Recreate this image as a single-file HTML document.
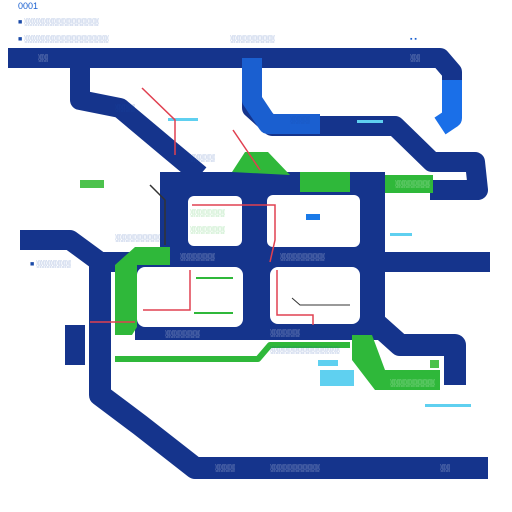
<!DOCTYPE html><html><head><style>body{margin:0;background:#fff}svg{display:block}</style></head><body>
<svg width="512" height="512" viewBox="0 0 512 512" xmlns="http://www.w3.org/2000/svg" font-family="Liberation Sans, sans-serif">
<rect width="512" height="512" fill="#fff"/>
<g fill="none" stroke-linejoin="round">
<!-- top bar -->
<path d="M8 58 H440 L452 72 V118" stroke="#15348c" stroke-width="20"/>
<path d="M452 80 V118 L440 126" stroke="#1a6fe8" stroke-width="20"/>
<!-- left branch from top -->
<path d="M80 58 V100 L120 108 L170 150 L200 175" stroke="#15348c" stroke-width="20"/>
<!-- middle top loop -->
<path d="M252 58 V108 L272 126 H395 L432 162 L475 162 L478 190 H430" stroke="#15348c" stroke-width="20"/>
<path d="M252 58 V100 L268 124 H320" stroke="#1a5fd0" stroke-width="20"/>
<!-- horizontal band -->
<path d="M20 240 H70 L100 262 H490" stroke="#15348c" stroke-width="20"/>
<path d="M380 262 L480 262" stroke="#15348c" stroke-width="20"/>
<!-- left outer loop -->
<path d="M100 262 V395 L140 425 L195 468 H488" stroke="#15348c" stroke-width="22"/>
<!-- right vertical -->
<path d="M372 175 V320 L400 345 H455 V385" stroke="#15348c" stroke-width="22"/>
<!-- green thin -->
<path d="M115 359 H258 L270 345 H350" stroke="#2fb83a" stroke-width="6"/>
</g>
<!-- central blue block -->
<path d="M160 172 H385 V340 H135 V265 H160 Z" fill="#15348c"/>
<rect x="188" y="196" width="54" height="50" rx="6" fill="#fff"/>
<rect x="267" y="195" width="93" height="52" rx="6" fill="#fff"/>
<rect x="137" y="267" width="106" height="60" rx="8" fill="#fff"/>
<rect x="270" y="267" width="90" height="57" rx="8" fill="#fff"/>
<!-- greens -->
<path d="M135 247 H170 V265 H137 V327 L132 335 H115 V265 Z" fill="#2fb83a"/>
<path d="M232 172 L245 152 H268 L290 175 Z" fill="#2fb83a"/>
<rect x="300" y="172" width="50" height="20" fill="#2fb83a"/>
<path d="M385 175 H433 V193 H385 Z" fill="#2fb83a"/>
<path d="M352 335 H372 L385 370 H440 V390 H375 L352 360 Z" fill="#2fb83a"/>
<rect x="80" y="180" width="24" height="8" fill="#4cc24c"/>
<rect x="430" y="360" width="9" height="8" fill="#4cc24c"/>
<!-- left small box -->
<rect x="65" y="325" width="20" height="40" fill="#15348c"/>
<!-- cyan -->
<rect x="320" y="370" width="34" height="16" fill="#5fd0f0"/>
<rect x="318" y="360" width="20" height="6" fill="#5fd0f0"/>
<rect x="425" y="404" width="46" height="3" fill="#5fd0f0"/>
<rect x="390" y="233" width="22" height="3" fill="#5fd0f0"/>
<rect x="357" y="120" width="26" height="3" fill="#5fd0f0"/>
<rect x="168" y="118" width="30" height="3" fill="#5fd0f0"/>
<rect x="306" y="214" width="14" height="6" fill="#1a7ae8"/>
<!-- red lines -->
<g fill="none" stroke="#e04050" stroke-width="1.5">
<path d="M142 88 L175 120 V155"/>
<path d="M190 270 V310 H143"/>
<path d="M277 270 V315 H313 V325"/>
<path d="M192 205 H275 V240 L270 262"/>
<path d="M90 322 H135"/>
<path d="M233 130 L260 170"/>
</g>
<g fill="none" stroke="#2fb83a" stroke-width="2">
<path d="M196 278 H233"/><path d="M194 313 H233"/>
</g>
<path d="M150 185 L165 200 V245" fill="none" stroke="#333" stroke-width="1.5"/>
<path d="M292 298 L300 305 H350" fill="none" stroke="#333" stroke-width="1"/>
<!-- text -->
<g fill="#1a4aa8" font-size="7">
<text x="18" y="9" font-size="9" fill="#1a60d0">0001</text>
<text x="18" y="24">■ ░░░░░░░░░░░░░░░</text>
<text x="18" y="41">■ ░░░░░░░░░░░░░░░░░</text>
<text x="230" y="41">░░░░░░░░░</text>
<text x="410" y="41" fill="#1a60d0">▪ ▪</text>
<text x="30" y="266">■ ░░░░░░░</text>
<text x="395" y="186" fill="#fff">░░░░░░░</text>
<text x="390" y="385" fill="#fff">░░░░░░░░░</text>
<text x="270" y="352">░░░░░░░░░░░░░░</text>
<text x="215" y="470" fill="#fff">░░░░</text>
<text x="270" y="470" fill="#fff">░░░░░░░░░░</text>
<text x="440" y="470" fill="#fff">░░</text>
<text x="180" y="259" fill="#fff">░░░░░░░</text>
<text x="280" y="259" fill="#fff">░░░░░░░░░</text>
<text x="165" y="336" fill="#fff">░░░░░░░</text>
<text x="270" y="335" fill="#fff">░░░░░░</text>
<text x="190" y="215" fill="#2fb83a">░░░░░░░</text>
<text x="190" y="232" fill="#2fb83a">░░░░░░░</text>
<text x="115" y="240">░░░░░░░░░</text>
<text x="190" y="160">░░░░░</text>
<text x="290" y="122">░░░░</text>
<text x="115" y="110">░░░░</text>
<text x="38" y="60" fill="#fff">░░</text>
<text x="410" y="60" fill="#fff">░░</text>
</g>
</svg>
</body></html>
